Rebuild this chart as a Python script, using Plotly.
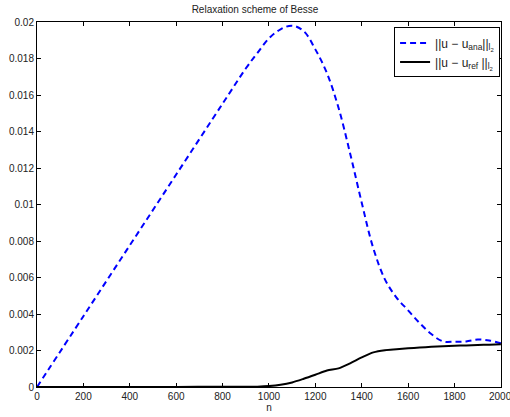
import plotly.graph_objects as go

n_vals = [0, 200, 400, 600, 800, 900, 950, 1000, 1050, 1100, 1150, 1200, 1250,
          1300, 1350, 1400, 1450, 1500, 1550, 1600, 1650, 1700, 1750, 1800,
          1850, 1900, 1950, 2000]
err_ana = [0, 0.00388, 0.00776, 0.01164, 0.01552, 0.01745, 0.0183, 0.0191,
           0.0196, 0.0198, 0.0195, 0.0185, 0.0172, 0.0153, 0.0128, 0.0101,
           0.0076, 0.0059, 0.0049, 0.0042, 0.0035, 0.0029, 0.0025, 0.00248,
           0.0025, 0.0026, 0.00255, 0.0024]
err_ref = [0, 0.000002, 0.000004, 0.000006, 0.00001, 0.000015, 0.00002, 0.00005,
           0.00012, 0.00025, 0.00045, 0.00067, 0.0009, 0.00102, 0.0013, 0.00162,
           0.0019, 0.00202, 0.00207, 0.00212, 0.00216, 0.0022, 0.00223, 0.00226,
           0.00228, 0.0023, 0.00232, 0.00234]

x_ticks = [0, 200, 400, 600, 800, 1000, 1200, 1400, 1600, 1800, 2000]
x_labels = ["0", "200", "400", "600", "800", "1000", "1200", "1400", "1600", "1800", ""]
last_x_label = "2000"
y_ticks = [0, 0.002, 0.004, 0.006, 0.008, 0.01, 0.012, 0.014, 0.016, 0.018, 0.02]
y_labels = ["0", "0.002", "0.004", "0.006", "0.008", "0.01", "0.012", "0.014",
            "0.016", "0.018", "0.02"]

fig = go.Figure()
fig.add_trace(go.Scatter(
    x=n_vals, y=err_ana, mode="lines",
    name="||u − u<sub>ana</sub>||<sub>l<sub>2</sub></sub>",
    line=dict(color="#0000ff", width=2, dash="6px,4px", shape="spline", smoothing=1.0),
))
fig.add_trace(go.Scatter(
    x=n_vals, y=err_ref, mode="lines",
    name="||u − u<sub>ref</sub> ||<sub>l<sub>2</sub></sub>",
    line=dict(color="black", width=2, shape="spline", smoothing=0.8),
))

axis_common = dict(
    showgrid=False, zeroline=False, showline=True, linecolor="black", linewidth=1,
    mirror="ticks", ticks="inside", ticklen=4, tickcolor="black", automargin=False,
    tickfont=dict(size=10, color="#222222"),
)
fig.update_xaxes(range=[0, 2000.5], tickvals=x_ticks, ticktext=x_labels,
                 title=dict(text="n", font=dict(size=10), standoff=0),
                 **axis_common)
fig.update_yaxes(range=[0, 0.02], tickvals=y_ticks, ticktext=y_labels, **axis_common)

fig.add_annotation(x=x_ticks[-1], xref="x", y=0, yref="paper", yanchor="top",
                   yshift=-2, text=last_x_label, showarrow=False,
                   font=dict(size=10, color="#222222"))

fig.update_layout(
    width=510, height=417,
    margin=dict(l=37, r=9, t=22, b=30),
    paper_bgcolor="white", plot_bgcolor="white",
    font=dict(family="Liberation Sans, Arial, sans-serif", size=10, color="#222222"),
    title=dict(text="Relaxation scheme of Besse", x=0.5, xanchor="center",
               y=0.985, yanchor="top", font=dict(size=10)),
    legend=dict(x=0.998, xanchor="right", y=0.985, yanchor="top",
                bordercolor="black", borderwidth=1, bgcolor="white",
                font=dict(size=12), tracegroupgap=0, itemwidth=30),
    showlegend=True,
)

fig.write_html("out.html", config={"displayModeBar": False},
               post_script="document.body.style.margin='0px';document.body.style.overflow='hidden';")
